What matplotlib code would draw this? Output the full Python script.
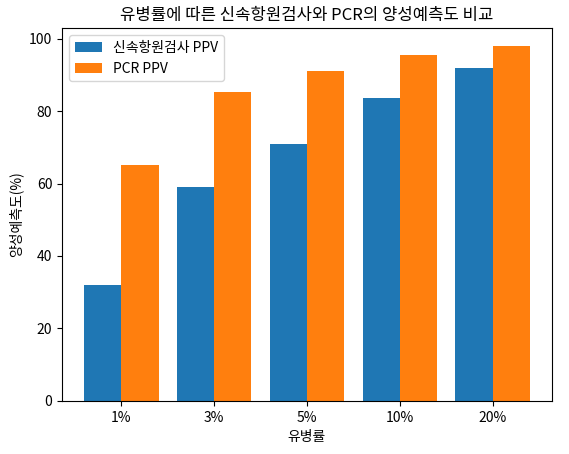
import matplotlib
matplotlib.use("Agg")
import matplotlib.pyplot as plt
import numpy as np

plt.rcParams['font.family'] = ['Noto Sans CJK KR', 'DejaVu Sans']

categories = ['1%', '3%', '5%', '10%', '20%']
rapid_ppv = [32, 59, 70.8, 83.7, 92]
pcr_ppv = [65, 85.2, 91, 95.5, 98]

fig, ax = plt.subplots(figsize=(5.69, 4.54), dpi=100)
fig.subplots_adjust(left=0.109, right=0.970, top=0.938, bottom=0.117)
x = np.arange(len(categories))
w = 0.4
ax.bar(x - w/2, rapid_ppv, w, label='신속항원검사 PPV', color='#1f77b4')
ax.bar(x + w/2, pcr_ppv, w, label='PCR PPV', color='#ff7f0e')
ax.set_xticks(x)
ax.set_xticklabels(categories)
ax.set_xlabel('유병률')
ax.set_ylabel('양성예측도(%)')
ax.set_title('유병률에 따른 신속항원검사와 PCR의 양성예측도 비교')
ax.legend(loc='upper left')
fig.savefig('out.png')
